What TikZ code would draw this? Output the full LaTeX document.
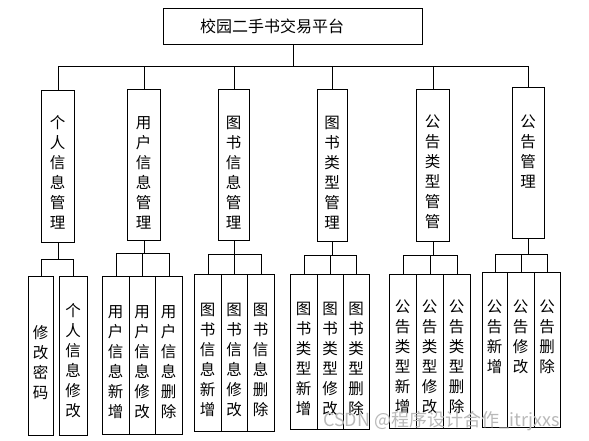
\documentclass[tikz,border=0pt]{standalone}
\usepackage{fontspec}
\newfontfamily\cjk{Noto Sans CJK SC}
\usetikzlibrary{positioning}

\begin{document}
\begin{tikzpicture}[x=1pt, y=-1pt,
    box/.style={draw, line width=0.9pt, inner sep=0pt, anchor=north west},
    vtext/.style={font=\cjk\fontsize{15.5}{20}\selectfont, align=center, inner sep=0pt, anchor=north},
    link/.style={line width=0.9pt}]

    \useasboundingbox[fill=white] (0,0) rectangle (589,441);

    % --- Top box ---
    \node[box, minimum width=259pt, minimum height=36pt] (title) at (163,8) {};
    \node[font=\cjk\fontsize{16}{16}\selectfont, inner sep=0pt, anchor=west] (titletext) at (200,26) {校园二手书交易平台};

    % --- Level-1 boxes (left to right) ---
    \node[box, minimum width=33pt, minimum height=152pt] (m1) at (41,90) {};
    \node[vtext] (t1) at (57.5,115) {个\\人\\信\\息\\管\\理};

    \node[box, minimum width=33pt, minimum height=151pt] (m2) at (127,89) {};
    \node[vtext] (t2) at (143.5,116) {用\\户\\信\\息\\管\\理};

    \node[box, minimum width=31pt, minimum height=151pt] (m3) at (218,89) {};
    \node[vtext] (t3) at (233.5,116) {图\\书\\信\\息\\管\\理};

    \node[box, minimum width=30pt, minimum height=152pt] (m4) at (317,89) {};
    \node[vtext] (t4) at (332,116) {图\\书\\类\\型\\管\\理};

    \node[box, minimum width=33pt, minimum height=152pt] (m5) at (416,89) {};
    \node[vtext] (t5) at (432.5,115) {公\\告\\类\\型\\管\\管};

    \node[box, minimum width=32pt, minimum height=151pt] (m6) at (512,87) {};
    \node[vtext] (t6) at (528,115) {公\\告\\管\\理};

    % top box to level-1
    \draw[link] (title.south) -- ++(0,22) -| (m1.north);
    \draw[link] (title.south) -- ++(0,22) -| (m2.north);
    \draw[link] (title.south) -- ++(0,22) -| (m3.north);
    \draw[link] (title.south) -- ++(0,22) -| (m4.north);
    \draw[link] (title.south) -- ++(0,22) -| (m5.north);
    \draw[link] (title.south) -- ++(0,22) -| (m6.north);

    % --- Level-2: personal info ---
    \node[box, minimum width=25pt, minimum height=159pt] (s11) at (28,276) {};
    \node[vtext] (u11) at (40.5,325) {修\\改\\密\\码};
    \node[box, minimum width=28pt, minimum height=159pt] (s12) at (59,276) {};
    \node[vtext] (u12) at (73,303) {个\\人\\信\\息\\修\\改};
    \draw[link] (m1.south) -- ++(0,17) -| (s11.north);
    \draw[link] (m1.south) -- ++(0,17) -| (s12.north);

    % --- Level-2: users ---
    \node[box, minimum width=27pt, minimum height=158pt] (s21) at (102,276) {};
    \node[vtext] (u21) at (115.5,305) {用\\户\\信\\息\\新\\增};
    \node[box, minimum width=26pt, minimum height=158pt] (s22) at (129,276) {};
    \node[vtext] (u22) at (142,305) {用\\户\\信\\息\\修\\改};
    \node[box, minimum width=27pt, minimum height=158pt] (s23) at (155,276) {};
    \node[vtext] (u23) at (168.5,305) {用\\户\\信\\息\\删\\除};
    \draw[link] (m2.south) -- ++(0,13) -| (s21.north);
    \draw[link] (m2.south) -- ++(0,13) -| (s22.north);
    \draw[link] (m2.south) -- ++(0,13) -| (s23.north);

    % --- Level-2: books ---
    \node[box, minimum width=27pt, minimum height=157pt] (s31) at (194,274) {};
    \node[vtext] (u31) at (207.5,303) {图\\书\\信\\息\\新\\增};
    \node[box, minimum width=26pt, minimum height=157pt] (s32) at (221,274) {};
    \node[vtext] (u32) at (234,303) {图\\书\\信\\息\\修\\改};
    \node[box, minimum width=27pt, minimum height=157pt] (s33) at (247,274) {};
    \node[vtext] (u33) at (260.5,303) {图\\书\\信\\息\\删\\除};
    \draw[link] (m3.south) -- ++(0,14) -| (s31.north);
    \draw[link] (m3.south) -- ++(0,14) -| (s32.north);
    \draw[link] (m3.south) -- ++(0,14) -| (s33.north);

    % --- Level-2: book types ---
    \node[box, minimum width=27pt, minimum height=155pt] (s41) at (290,274) {};
    \node[vtext] (u41) at (303.5,302) {图\\书\\类\\型\\新\\增};
    \node[box, minimum width=26pt, minimum height=155pt] (s42) at (317,274) {};
    \node[vtext] (u42) at (330,302) {图\\书\\类\\型\\修\\改};
    \node[box, minimum width=26pt, minimum height=155pt] (s43) at (343,274) {};
    \node[vtext] (u43) at (356,302) {图\\书\\类\\型\\删\\除};
    \draw[link] (m4.south) -- ++(0,14) -| (s41.north);
    \draw[link] (m4.south) -- ++(0,14) -| (s42.north);
    \draw[link] (m4.south) -- ++(0,14) -| (s43.north);

    % --- Level-2: notice types ---
    \node[box, minimum width=27pt, minimum height=154pt] (s51) at (389,274) {};
    \node[vtext] (u51) at (402.5,300) {公\\告\\类\\型\\新\\增};
    \node[box, minimum width=27pt, minimum height=154pt] (s52) at (416,274) {};
    \node[vtext] (u52) at (429.5,300) {公\\告\\类\\型\\修\\改};
    \node[box, minimum width=27pt, minimum height=154pt] (s53) at (443,274) {};
    \node[vtext] (u53) at (456.5,300) {公\\告\\类\\型\\删\\除};
    \draw[link] (m5.south) -- ++(0,14) -| (s51.north);
    \draw[link] (m5.south) -- ++(0,14) -| (s52.north);
    \draw[link] (m5.south) -- ++(0,14) -| (s53.north);

    % --- Level-2: notices ---
    \node[box, minimum width=25pt, minimum height=155pt] (s61) at (482,272) {};
    \node[vtext] (u61) at (494.5,300) {公\\告\\新\\增};
    \node[box, minimum width=27pt, minimum height=155pt] (s62) at (507,272) {};
    \node[vtext] (u62) at (520.5,300) {公\\告\\修\\改};
    \node[box, minimum width=26pt, minimum height=155pt] (s63) at (534,272) {};
    \node[vtext] (u63) at (547,300) {公\\告\\删\\除};
    \draw[link] (m6.south) -- ++(0,16) -| (s61.north);
    \draw[link] (m6.south) -- ++(0,16) -| (s62.north);
    \draw[link] (m6.south) -- ++(0,16) -| (s63.north);

    % watermark
    \node[font=\cjk\fontsize{18}{18}\selectfont, text=gray!55, inner sep=0pt, anchor=west] (mark) at (323,421) {CSDN @程序设计合作\_itrjxxs};

\end{tikzpicture}
\end{document}
